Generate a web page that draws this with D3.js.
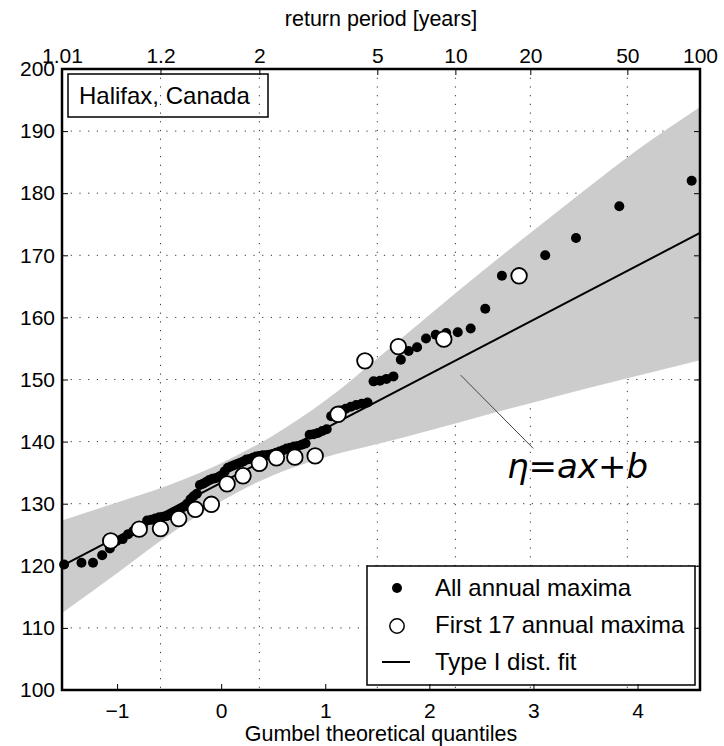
<!DOCTYPE html>
<html lang="en">
<head>
  <meta charset="UTF-8" />
  <title>Halifax annual maxima - Gumbel plot</title>
  <script src="https://d3js.org/d3.v7.min.js"></script>
  <style>
    body {
      margin: 0;
      background-color: white;
    }
    text {
      font-family: "Liberation Sans", Arial, sans-serif;
      fill: black;
    }
  </style>
</head>
<body>
  <div id="chart"></div>

  <script>
  // ---- data ----
  var quantTicks = [-1, 0, 1, 2, 3, 4];
  var periodLabels = ["1.01", "1.2", "2", "5", "10", "20", "50", "100"];
  var periodPos = [-1.529, -0.583, 0.367, 1.500, 2.250, 2.970, 3.902, 4.600]; // where each return period sits on the quantile axis
  var levelTicks = [100, 110, 120, 130, 140, 150, 160, 170, 180, 190, 200];

  // all annual maxima (Gumbel quantile, level)
  var allX = [4.520, 3.825, 3.409, 3.113, 2.885, 2.697, 2.537, 2.397, 2.273, 2.162,
              2.061, 1.968, 1.882, 1.801, 1.726, 1.655, 1.588, 1.525, 1.464, 1.406,
              1.351, 1.297, 1.246, 1.196, 1.148, 1.102, 1.057, 1.014, 0.971, 0.930,
              0.889, 0.850, 0.811, 0.774, 0.737, 0.700, 0.665, 0.629, 0.595, 0.561,
              0.528, 0.495, 0.462, 0.430, 0.398, 0.367, 0.335, 0.304, 0.274, 0.243,
              0.213, 0.183, 0.153, 0.123, 0.093, 0.064, 0.034, 0.005, -0.025, -0.055,
              -0.084, -0.114, -0.144, -0.174, -0.204, -0.234, -0.265, -0.295, -0.327, -0.358,
              -0.390, -0.423, -0.456, -0.490, -0.524, -0.559, -0.595, -0.633, -0.671, -0.711,
              -0.753, -0.797, -0.844, -0.893, -0.946, -1.004, -1.069, -1.143, -1.231, -1.342,
              -1.509];
  var allY = [182.0, 177.9, 172.8, 170.0, 166.7, 166.7, 161.4, 158.2, 157.6, 157.5,
              157.2, 156.6, 155.2, 154.6, 153.2, 150.5, 150.1, 149.8, 149.7, 146.3,
              146.1, 145.9, 145.6, 145.3, 145.0, 144.4, 144.1, 142.0, 141.7, 141.4,
              141.2, 141.1, 139.7, 139.5, 139.3, 139.2, 139.0, 138.9, 138.6, 138.4,
              138.2, 138.0, 137.9, 137.8, 137.8, 137.7, 137.6, 137.4, 137.2, 137.1,
              136.8, 136.6, 136.4, 136.2, 136.0, 135.8, 135.2, 134.6, 134.3, 134.1,
              134.0, 133.8, 133.5, 133.2, 133.0, 131.6, 131.2, 130.7, 130.0, 129.5,
              129.2, 128.8, 128.6, 128.2, 128.0, 127.9, 127.8, 127.6, 127.4, 127.3,
              126.4, 125.9, 125.6, 125.1, 124.3, 124.0, 122.8, 121.7, 120.5, 120.5,
              120.2];

  // first 17 annual maxima
  var firstX = [2.862, 2.139, 1.702, 1.381, 1.123, 0.903, 0.708, 0.531, 0.367, 0.210,
                0.057, -0.094, -0.248, -0.408, -0.583, -0.787, -1.061];
  var firstY = [166.7, 156.5, 155.3, 153.0, 144.4, 137.7, 137.5, 137.4, 136.5, 134.5,
                133.2, 129.9, 129.1, 127.6, 126.0, 125.9, 124.0];

  // type I fit line end points
  var fitX = [-1.529, 4.600];
  var fitY = [120.0, 173.6];

  // confidence band
  var bandX     = [-1.529, -1.0, -0.5, 0.0, 0.5, 1.0, 1.5, 2.0, 2.5, 3.0, 3.5, 4.0, 4.600];
  var bandUpper = [127.3, 130.2, 133.0, 136.5, 141.0, 146.6, 153.4, 160.4, 167.3, 174.0, 180.6, 187.0, 193.9];
  var bandLower = [112.4, 118.8, 125.0, 130.4, 134.6, 137.5, 139.6, 141.8, 144.1, 146.3, 148.5, 150.6, 153.1];

  // annotation pointer (from band to the text)
  var noteX = [2.301, 2.998];
  var noteY = [150.7, 138.9];

  // ---- setting up the chart ----
  var margin = {top: 69, right: 24, bottom: 56, left: 62},
      width = 724 - margin.left - margin.right,
      height = 746 - margin.top - margin.bottom;

  var svg = d3.select("#chart")
    .append("svg")
      .attr("width", 724)
      .attr("height", 746)
    .append("g")
      .attr("transform", "translate(" + margin.left + "," + margin.top + ")");

  var x = d3.scaleLinear()
    .domain([periodPos[0], periodPos[periodPos.length - 1]])
    .range([0, width]);

  var y = d3.scaleLinear()
    .domain([100, 200])
    .range([height, 0]);

  // dotted grid (horizontal on levels, vertical on return periods)
  var grid = svg.append("g");
  grid.selectAll(".hgrid")
    .data(levelTicks.slice(1, -1))
    .enter()
    .append("line")
      .attr("x1", 0)
      .attr("x2", width)
      .attr("y1", function(d) { return y(d); })
      .attr("y2", function(d) { return y(d); });
  grid.selectAll(".vgrid")
    .data(periodPos.slice(1, -1))
    .enter()
    .append("line")
      .attr("x1", function(d) { return x(d); })
      .attr("x2", function(d) { return x(d); })
      .attr("y1", 0)
      .attr("y2", height);
  grid.selectAll("line")
    .style("stroke", "#333")
    .style("stroke-width", 1)
    .style("stroke-dasharray", "1.2,7.5");

  // grey band
  var bandData = bandX.map(function(d, i) { return [d, bandLower[i], bandUpper[i]]; });
  svg.append("path")
    .datum(bandData)
    .attr("d", d3.area()
      .curve(d3.curveMonotoneX)
      .x(function(d) { return x(d[0]); })
      .y0(function(d) { return y(d[1]); })
      .y1(function(d) { return y(d[2]); }))
    .style("fill", "#cccccc")
    .style("stroke", "none");

  // fit line
  svg.append("line")
    .attr("x1", x(fitX[0]))
    .attr("y1", y(fitY[0]))
    .attr("x2", x(fitX[1]))
    .attr("y2", y(fitY[1]))
    .style("stroke", "black")
    .style("stroke-width", 2);

  // all maxima
  svg.append("g")
    .selectAll("circle")
    .data(allX)
    .enter()
    .append("circle")
      .attr("cx", function(d) { return x(d); })
      .attr("cy", function(d, i) { return y(allY[i]); })
      .attr("r", 5)
      .style("fill", "black");

  // first 17 maxima
  svg.append("g")
    .selectAll("circle")
    .data(firstX)
    .enter()
    .append("circle")
      .attr("cx", function(d) { return x(d); })
      .attr("cy", function(d, i) { return y(firstY[i]); })
      .attr("r", 7.8)
      .style("fill", "white")
      .style("stroke", "black")
      .style("stroke-width", 1.8);

  // annotation
  svg.append("line")
    .attr("x1", x(noteX[0]))
    .attr("y1", y(noteY[0]))
    .attr("x2", x(noteX[1]))
    .attr("y2", y(noteY[1]))
    .style("stroke", "#444")
    .style("stroke-width", 1);

  svg.append("text")
    .attr("x", 445)
    .attr("y", 409)
    .style("font-family", "'DejaVu Sans', sans-serif")
    .style("font-style", "italic")
    .style("font-size", "34px")
    .text("η=ax+b");

  // location box
  svg.append("rect")
    .attr("x", 6)
    .attr("y", 5)
    .attr("width", 200)
    .attr("height", 43)
    .style("fill", "none")
    .style("stroke", "black")
    .style("stroke-width", 1.5);
  svg.append("text")
    .attr("x", 17)
    .attr("y", 35)
    .style("font-size", "24px")
    .text("Halifax, Canada");

  // legend
  var legend = svg.append("g").attr("transform", "translate(305,497)");
  legend.append("rect")
    .attr("width", 328)
    .attr("height", 119)
    .style("fill", "white")
    .style("stroke", "black")
    .style("stroke-width", 1.5);
  legend.append("circle")
    .attr("cx", 30).attr("cy", 22).attr("r", 5)
    .style("fill", "black");
  legend.append("circle")
    .attr("cx", 30).attr("cy", 60).attr("r", 7.2)
    .style("fill", "white").style("stroke", "black").style("stroke-width", 1.5);
  legend.append("line")
    .attr("x1", 15).attr("x2", 43).attr("y1", 96).attr("y2", 96)
    .style("stroke", "black").style("stroke-width", 2);
  var legendText = ["All annual maxima", "First 17 annual maxima", "Type I dist. fit"];
  legend.selectAll(".ltext")
    .data(legendText)
    .enter()
    .append("text")
      .attr("x", 68)
      .attr("y", function(d, i) { return 30 + i * 37; })
      .style("font-size", "24px")
      .text(function(d) { return d; });

  // axes (ticks pointing inwards)
  var fs = "21px";
  var bottomAxis = svg.append("g")
    .attr("transform", "translate(0," + height + ")")
    .call(d3.axisBottom(x).tickValues(quantTicks)
      .tickFormat(function(d) { return d < 0 ? "\u2212" + Math.abs(d) : d; })
      .tickSize(-6).tickPadding(13));
  var topAxis = svg.append("g")
    .call(d3.axisTop(x).tickValues(periodPos)
      .tickFormat(function(d, i) { return periodLabels[i]; })
      .tickSize(-6).tickPadding(6));
  var leftAxis = svg.append("g")
    .call(d3.axisLeft(y).tickValues(levelTicks)
      .tickSize(-6).tickPadding(7));
  var rightAxis = svg.append("g")
    .attr("transform", "translate(" + width + ",0)")
    .call(d3.axisRight(y).tickValues(levelTicks)
      .tickSize(-6).tickFormat(""));

  svg.selectAll(".domain").remove();
  svg.selectAll(".tick line").style("stroke", "black").style("stroke-width", 1);
  svg.selectAll(".tick text")
    .style("font-family", "'Liberation Sans', Arial, sans-serif")
    .style("font-size", fs)
    .style("fill", "black");

  // frame
  svg.append("rect")
    .attr("width", width)
    .attr("height", height)
    .style("fill", "none")
    .style("stroke", "black")
    .style("stroke-width", 2.5);

  // axis titles
  svg.append("text")
    .attr("x", width / 2)
    .attr("y", height + 51)
    .attr("text-anchor", "middle")
    .style("font-size", "21.5px")
    .text("Gumbel theoretical quantiles");

  svg.append("text")
    .attr("x", width / 2)
    .attr("y", -43)
    .attr("text-anchor", "middle")
    .style("font-size", "21.5px")
    .text("return period [years]");
  </script>
</body>
</html>
